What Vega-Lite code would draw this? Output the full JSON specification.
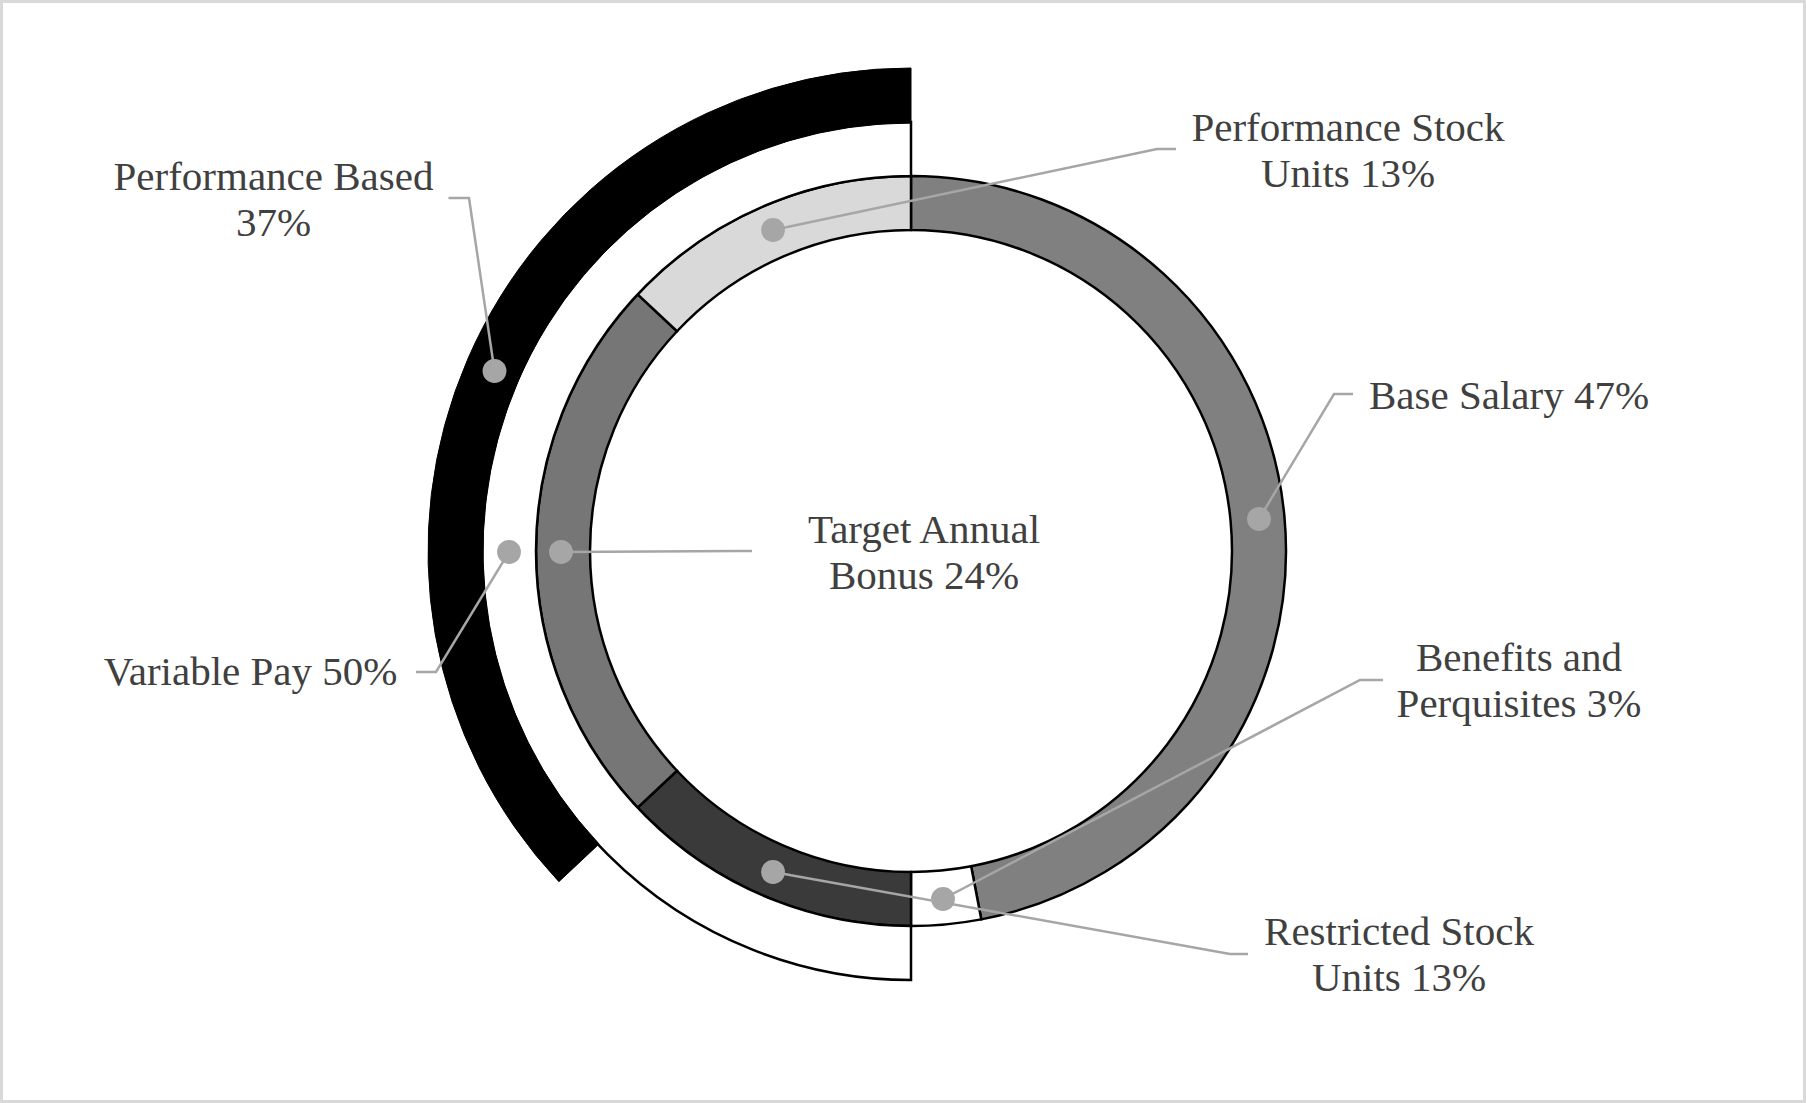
{
  "$schema": "https://vega.github.io/schema/vega-lite/v6.json",
  "width": 1806,
  "height": 1103,
  "padding": 0,
  "autosize": {"type": "none"},
  "background": "white",
  "config": {"view": {"stroke": "#d9d9d9", "strokeWidth": 6}},
  "datasets": {
    "rings": [
      {"ring": "inner", "part": "Base Salary", "value": 47, "ord": 1},
      {"ring": "inner", "part": "Benefits and Perquisites", "value": 3, "ord": 2},
      {"ring": "inner", "part": "Restricted Stock Units", "value": 13, "ord": 3},
      {"ring": "inner", "part": "Target Annual Bonus", "value": 24, "ord": 4},
      {"ring": "inner", "part": "Performance Stock Units", "value": 13, "ord": 5},
      {"ring": "middle", "part": "blank", "value": 50, "ord": 1},
      {"ring": "middle", "part": "Variable Pay", "value": 50, "ord": 2},
      {"ring": "outer", "part": "blank", "value": 63, "ord": 1},
      {"ring": "outer", "part": "Performance Based", "value": 37, "ord": 2}
    ],
    "leaders": [
      {"id": "PB", "seq": 0, "x": 494.5, "y": 371},
      {"id": "PB", "seq": 1, "x": 469, "y": 198},
      {"id": "PB", "seq": 2, "x": 448.5, "y": 198},
      {"id": "PSU", "seq": 0, "x": 773, "y": 230},
      {"id": "PSU", "seq": 1, "x": 1157, "y": 149},
      {"id": "PSU", "seq": 2, "x": 1176, "y": 149},
      {"id": "BS", "seq": 0, "x": 1259, "y": 519},
      {"id": "BS", "seq": 1, "x": 1334, "y": 394},
      {"id": "BS", "seq": 2, "x": 1353, "y": 394},
      {"id": "TAB", "seq": 0, "x": 561, "y": 552},
      {"id": "TAB", "seq": 1, "x": 740, "y": 551},
      {"id": "TAB", "seq": 2, "x": 752, "y": 551},
      {"id": "VP", "seq": 0, "x": 509, "y": 552},
      {"id": "VP", "seq": 1, "x": 436, "y": 672},
      {"id": "VP", "seq": 2, "x": 416, "y": 672},
      {"id": "BP", "seq": 0, "x": 943, "y": 899},
      {"id": "BP", "seq": 1, "x": 1360, "y": 680},
      {"id": "BP", "seq": 2, "x": 1383, "y": 680},
      {"id": "RSU", "seq": 0, "x": 773, "y": 872},
      {"id": "RSU", "seq": 1, "x": 1230, "y": 954},
      {"id": "RSU", "seq": 2, "x": 1248, "y": 954}
    ],
    "labels": [
      {"label": "Performance Based\n37%", "x": 273.5, "y": 190},
      {"label": "Performance Stock\nUnits 13%", "x": 1348, "y": 141},
      {"label": "Base Salary 47%", "x": 1509, "y": 409},
      {"label": "Target Annual\nBonus 24%", "x": 924, "y": 543},
      {"label": "Benefits and\nPerquisites 3%", "x": 1519, "y": 671},
      {"label": "Restricted Stock\nUnits 13%", "x": 1399, "y": 945},
      {"label": "Variable Pay 50%", "x": 250.5, "y": 685}
    ]
  },
  "layer": [
    {
      "data": {"name": "rings"},
      "transform": [{"filter": "datum.ring === 'inner'"}],
      "mark": {"type": "arc", "innerRadius": 321, "outerRadius": 375, "stroke": "black", "strokeWidth": 2.5},
      "encoding": {
        "theta": {"field": "value", "type": "quantitative", "stack": true},
        "order": {"field": "ord", "type": "quantitative"},
        "color": {"field": "part", "type": "nominal", "legend": null,
          "scale": {"domain": ["Base Salary", "Benefits and Perquisites", "Restricted Stock Units", "Target Annual Bonus", "Performance Stock Units", "Variable Pay", "Performance Based", "blank"],
                    "range": ["#808080", "#ffffff", "#3a3a3a", "#767676", "#d9d9d9", "#ffffff", "#000000", "#ffffff"]}},
        "opacity": {"condition": {"test": "datum.part === 'blank'", "value": 0}, "value": 1},
        "x": {"datum": 911, "type": "quantitative", "axis": null, "scale": {"domain": [0, 1806], "nice": false, "zero": false}},
        "y": {"datum": 551, "type": "quantitative", "axis": null, "scale": {"domain": [0, 1103], "nice": false, "zero": false, "reverse": true}}
      }
    },
    {
      "data": {"name": "rings"},
      "transform": [{"filter": "datum.ring === 'middle'"}],
      "mark": {"type": "arc", "innerRadius": 375, "outerRadius": 429, "stroke": "black", "strokeWidth": 2.5},
      "encoding": {
        "theta": {"field": "value", "type": "quantitative", "stack": true},
        "order": {"field": "ord", "type": "quantitative"},
        "color": {"field": "part", "type": "nominal", "legend": null,
          "scale": {"domain": ["Base Salary", "Benefits and Perquisites", "Restricted Stock Units", "Target Annual Bonus", "Performance Stock Units", "Variable Pay", "Performance Based", "blank"],
                    "range": ["#808080", "#ffffff", "#3a3a3a", "#767676", "#d9d9d9", "#ffffff", "#000000", "#ffffff"]}},
        "opacity": {"condition": {"test": "datum.part === 'blank'", "value": 0}, "value": 1},
        "x": {"datum": 911, "type": "quantitative", "axis": null, "scale": {"domain": [0, 1806], "nice": false, "zero": false}},
        "y": {"datum": 551, "type": "quantitative", "axis": null, "scale": {"domain": [0, 1103], "nice": false, "zero": false, "reverse": true}}
      }
    },
    {
      "data": {"name": "rings"},
      "transform": [{"filter": "datum.ring === 'outer'"}],
      "mark": {"type": "arc", "innerRadius": 428, "outerRadius": 483, "stroke": "black", "strokeWidth": 1},
      "encoding": {
        "theta": {"field": "value", "type": "quantitative", "stack": true},
        "order": {"field": "ord", "type": "quantitative"},
        "color": {"field": "part", "type": "nominal", "legend": null,
          "scale": {"domain": ["Base Salary", "Benefits and Perquisites", "Restricted Stock Units", "Target Annual Bonus", "Performance Stock Units", "Variable Pay", "Performance Based", "blank"],
                    "range": ["#808080", "#ffffff", "#3a3a3a", "#767676", "#d9d9d9", "#ffffff", "#000000", "#ffffff"]}},
        "opacity": {"condition": {"test": "datum.part === 'blank'", "value": 0}, "value": 1},
        "x": {"datum": 911, "type": "quantitative", "axis": null, "scale": {"domain": [0, 1806], "nice": false, "zero": false}},
        "y": {"datum": 551, "type": "quantitative", "axis": null, "scale": {"domain": [0, 1103], "nice": false, "zero": false, "reverse": true}}
      }
    },
    {
      "data": {"name": "leaders"},
      "mark": {"type": "line", "stroke": "#a6a6a6", "strokeWidth": 2.5, "strokeCap": "butt"},
      "encoding": {
        "x": {"field": "x", "type": "quantitative", "axis": null, "scale": {"domain": [0, 1806], "nice": false, "zero": false}},
        "y": {"field": "y", "type": "quantitative", "axis": null, "scale": {"domain": [0, 1103], "nice": false, "zero": false, "reverse": true}},
        "detail": {"field": "id", "type": "nominal"},
        "order": {"field": "seq", "type": "quantitative"}
      }
    },
    {
      "data": {"name": "leaders"},
      "transform": [{"filter": "datum.seq === 0"}],
      "mark": {"type": "circle", "size": 570, "color": "#a6a6a6", "opacity": 1},
      "encoding": {
        "x": {"field": "x", "type": "quantitative", "axis": null, "scale": {"domain": [0, 1806], "nice": false, "zero": false}},
        "y": {"field": "y", "type": "quantitative", "axis": null, "scale": {"domain": [0, 1103], "nice": false, "zero": false, "reverse": true}}
      }
    },
    {
      "data": {"name": "labels"},
      "mark": {"type": "text", "font": "Liberation Serif", "fontSize": 41, "color": "#404040", "align": "center", "baseline": "alphabetic", "lineBreak": "\n", "lineHeight": 46},
      "encoding": {
        "x": {"field": "x", "type": "quantitative", "axis": null, "scale": {"domain": [0, 1806], "nice": false, "zero": false}},
        "y": {"field": "y", "type": "quantitative", "axis": null, "scale": {"domain": [0, 1103], "nice": false, "zero": false, "reverse": true}},
        "text": {"field": "label", "type": "nominal"}
      }
    }
  ]
}
